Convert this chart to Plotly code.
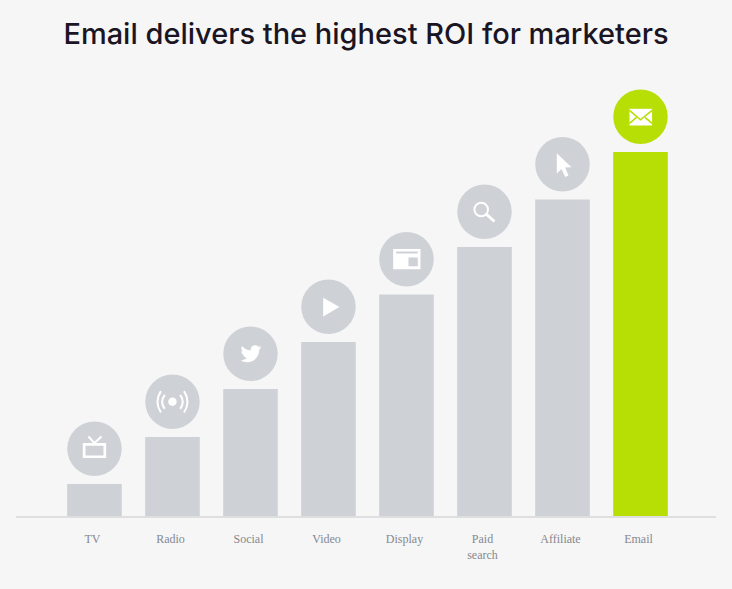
import re
import plotly.graph_objects as go

categories = ["TV", "Radio", "Social", "Video", "Display", "Paid<br>search", "Affiliate", "Email"]
values = [32, 79, 127, 174, 221.5, 269, 316.5, 364]
title_text = "Email delivers the highest ROI for marketers"

GREY = "#ced1d6"
GREEN = "#b7df05"
BG = "#f6f6f6"
WHITE = "#ffffff"
CIRCLE_GAP = 35.2


def P(pts, close=True):
    # icon outlines given y-down relative to the circle centre, plotly pixel mode is y-up
    s = "M" + " L".join(f"{x:.2f},{-y:.2f}" for x, y in pts)
    return s + (" Z" if close else "")


def circle(cx, cy, r):
    k = 0.5523 * r
    f = lambda x, y: f"{x:.2f},{-y:.2f}"
    return (f"M{f(cx + r, cy)} C{f(cx + r, cy + k)} {f(cx + k, cy + r)} {f(cx, cy + r)} "
            f"C{f(cx - k, cy + r)} {f(cx - r, cy + k)} {f(cx - r, cy)} "
            f"C{f(cx - r, cy - k)} {f(cx - k, cy - r)} {f(cx, cy - r)} "
            f"C{f(cx + k, cy - r)} {f(cx + r, cy - k)} {f(cx + r, cy)} Z")


def rect(x0, y0, x1, y1):
    return P([(x0, y0), (x1, y0), (x1, y1), (x0, y1)])


def arc(x_end, y, x_ctrl):
    return f"M{x_end:.2f},{y:.2f} Q{x_ctrl:.2f},0 {x_end:.2f},{-y:.2f}"


BIRD = ("M22.46 6c-.77.35-1.6.58-2.46.69.88-.53 1.56-1.37 1.88-2.38-.83.5-1.75.85-2.72 1.05"
        "C18.37 4.5 17.26 4 16 4c-2.35 0-4.27 1.92-4.27 4.29 0 .34.04.67.11.98"
        "C8.28 9.09 5.11 7.38 3 4.79c-.37.63-.58 1.37-.58 2.15 0 1.49.75 2.81 1.91 3.56"
        "-.71 0-1.37-.2-1.95-.5v.03c0 2.08 1.48 3.82 3.44 4.21l-1.93.07l4 2.98l-5.33 1.84"
        "c-.34 0-.68-.02-1.02-.06C3.44 20.29 5.7 21 8.12 21 16 21 20.33 14.46 20.33 8.79"
        "c0-.19 0-.37-.01-.56.84-.6 1.56-1.36 2.14-2.23z")


def bird_path(ox=11.5, oy=12.5):
    toks = re.findall(r"[MCclvz]|-?\d*\.?\d+", BIRD)
    i, cmd, x, y, out = 0, None, 0.0, 0.0, []
    f = lambda a, b: f"{a - ox:.2f},{-(b - oy):.2f}"
    while i < len(toks):
        if toks[i] in "MCclvz":
            cmd = toks[i]
            i += 1
            if cmd == "z":
                out.append("Z")
                continue
        if cmd in "Cc":
            n = [float(t) for t in toks[i:i + 6]]
            i += 6
            if cmd == "c":
                n = [n[0] + x, n[1] + y, n[2] + x, n[3] + y, n[4] + x, n[5] + y]
            out.append(f"C{f(n[0], n[1])} {f(n[2], n[3])} {f(n[4], n[5])}")
            x, y = n[4], n[5]
        elif cmd in "Ml":
            a, b = float(toks[i]), float(toks[i + 1])
            i += 2
            x, y = (a, b) if cmd == "M" else (x + a, y + b)
            out.append(("M" if cmd == "M" else "L") + f(x, y))
        elif cmd == "v":
            y += float(toks[i])
            i += 1
            out.append("L" + f(x, y))
    return " ".join(out)


ICON_PARTS = [
    # TV
    [dict(path=rect(-11.7, -5.7, 11.7, 9.3) + " " + rect(-9, -3, 9, 6.6), fill=WHITE),
     dict(path=P([(-6, -12.3), (0, -5.7), (7, -12.3)], False), line=WHITE, w=2)],
    # Radio
    [dict(path=circle(0, 0, 4.2), fill=WHITE),
     dict(path=arc(-7.7, 7, -12.9), line=WHITE, w=2), dict(path=arc(7.7, 7, 12.9), line=WHITE, w=2),
     dict(path=arc(-11.6, 10.7, -18.4), line=WHITE, w=2), dict(path=arc(11.6, 10.7, 18.4), line=WHITE, w=2)],
    # Social
    [dict(path=bird_path(), fill=WHITE)],
    # Video
    [dict(path=P([(-5.3, -9), (11, 0.3), (-5.3, 9.7)]), fill=WHITE)],
    # Display
    [dict(path=rect(-13.3, -10.3, 14, 10) + " " + rect(-10.3, -7.7, 11.3, -5.7) + " " + rect(2, -1.7, 11.3, 7), fill=WHITE)],
    # Paid search
    [dict(path=circle(-3.3, -2.3, 6.8), line=WHITE, w=2),
     dict(path=P([(2, 2.6), (10, 9.7)], False), line=WHITE, w=2.8)],
    # Affiliate
    [dict(path=P([(-5.7, -11), (9, 3), (2.7, 3.3), (6, 11.3), (2.7, 12.7), (-1, 4.7), (-5.7, 9.3)]), fill=WHITE)],
    # Email
    [dict(path=rect(-11, -8, 11.6, 8.7), fill=WHITE),
     dict(path=P([(-11, -6.5), (0, 3), (11.6, -6.5)], False), line=GREEN, w=1.6),
     dict(path=P([(-11, 6.5), (-4, 0.5)], False), line=GREEN, w=1.6),
     dict(path=P([(11.6, 6.5), (4.5, 0.5)], False), line=GREEN, w=1.6)],
]

colors = [GREY] * 7 + [GREEN]

fig = go.Figure()
fig.add_trace(go.Bar(x=categories, y=values, width=0.7, marker=dict(color=colors, line_width=0),
                     hoverinfo="x+y", showlegend=False))
fig.add_trace(go.Scatter(x=categories, y=[v + CIRCLE_GAP for v in values], mode="markers",
                         marker=dict(size=54.5, color=colors, line_width=0),
                         hoverinfo="skip", showlegend=False))

shapes = []
for idx, parts in enumerate(ICON_PARTS):
    for p in parts:
        shapes.append(dict(
            type="path", path=p["path"], layer="above",
            xref="x", yref="y", xsizemode="pixel", ysizemode="pixel",
            xanchor=idx, yanchor=values[idx] + CIRCLE_GAP,
            fillcolor=p.get("fill", "rgba(0,0,0,0)"), fillrule="evenodd",
            line=dict(color=p.get("line", "rgba(0,0,0,0)"), width=p.get("w", 0)),
        ))

fig.update_layout(
    width=732, height=589, autosize=False,
    paper_bgcolor=BG, plot_bgcolor=BG,
    margin=dict(l=16, r=16, t=53, b=73),
    title=dict(text=title_text, x=0.5, xanchor="center", y=0.942, yanchor="middle",
               font=dict(family="Inter", size=29, color="#1a1523", weight=550)),
    shapes=shapes,
    xaxis=dict(type="category", categoryorder="array", categoryarray=categories,
               range=[-1.006, 7.968], showgrid=False, zeroline=False, fixedrange=True,
               showline=True, linecolor="#dfdfdf", linewidth=1.5,
               ticks="outside", ticklen=11, tickcolor="rgba(0,0,0,0)",
               ticklabelshift=-2,
               tickangle=0, tickfont=dict(family="Liberation Serif", size=12, color="#85888e")),
    yaxis=dict(range=[0, 463], visible=False, fixedrange=True),
)
fig.write_html("out.html", config=dict(displayModeBar=False),
               post_script="document.body.style.margin='0';document.body.style.background='#f6f6f6';document.documentElement.style.overflow='hidden';")
